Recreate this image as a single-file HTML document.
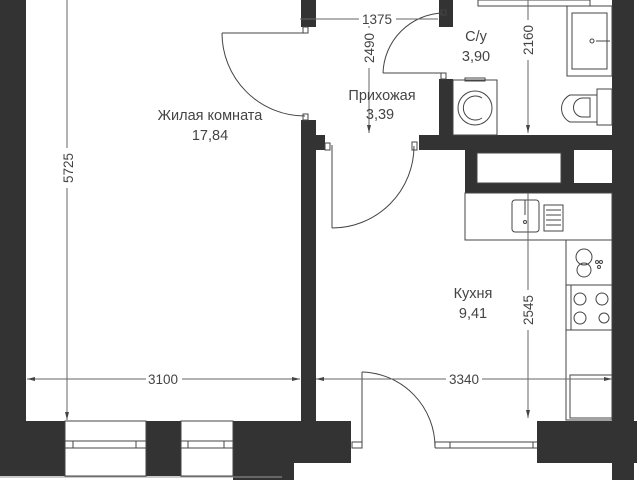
<!DOCTYPE html>
<html><head><meta charset="utf-8"><style>
html,body{margin:0;padding:0;background:#fff;width:640px;height:480px;overflow:hidden}
svg{display:block}
text{font-family:"Liberation Sans",sans-serif;fill:#444}
</style></head><body>
<svg width="640" height="480" viewBox="0 0 640 480" xmlns="http://www.w3.org/2000/svg">
<g fill="#333">
<rect x="0" y="0" width="26" height="476"/>
<rect x="0" y="421" width="65" height="55"/>
<rect x="146" y="421" width="35" height="55"/>
<rect x="233" y="421" width="118" height="42"/>
<rect x="233" y="463" width="61" height="17"/>
<rect x="301" y="0" width="15" height="27"/>
<rect x="301" y="120" width="15" height="301"/>
<rect x="316" y="135" width="9" height="15"/>
<rect x="439" y="0" width="14" height="27"/>
<rect x="439" y="79" width="14" height="71"/>
<rect x="419" y="135" width="215" height="15"/>
<rect x="465" y="150" width="169" height="43"/>
<rect x="612" y="0" width="22" height="480"/>
<rect x="537" y="421" width="100" height="42"/>
</g>
<g fill="#fff" stroke="#444" stroke-width="1">
<rect x="477" y="153" width="84" height="30"/>
<rect x="574" y="150" width="38" height="33" stroke="none"/>
<rect x="65" y="421" width="81" height="55"/>
<rect x="181" y="421" width="52" height="55"/>
</g>
<g fill="none" stroke="#444" stroke-width="1">
<line x1="65" y1="441" x2="146" y2="441"/><line x1="65" y1="448" x2="146" y2="448"/>
<rect x="73" y="441" width="63" height="7"/>
<line x1="181" y1="441" x2="233" y2="441"/><line x1="181" y1="448" x2="233" y2="448"/>
<rect x="188" y="441" width="36" height="7"/>
<line x1="0" y1="477" x2="282" y2="477" stroke="#999"/>
<line x1="222" y1="33" x2="305" y2="33"/>
<path d="M222 33 A83 83 0 0 0 305 116"/>
<rect x="303" y="27" width="5" height="6"/><rect x="303" y="114" width="5" height="6"/>
<line x1="383" y1="73" x2="445" y2="73"/>
<path d="M383 73 A62 62 0 0 1 443 13"/>
<rect x="441" y="10" width="5" height="5"/><rect x="441" y="73" width="5" height="6"/>
<line x1="332" y1="145" x2="332" y2="228"/>
<path d="M332 228 A82 82 0 0 0 414 146"/>
<rect x="325" y="143" width="5" height="7"/><rect x="412" y="142" width="5" height="8"/>
<line x1="362" y1="372" x2="362" y2="447"/>
<path d="M362 372 A75 75 0 0 1 435 447"/>
<rect x="352" y="442" width="10" height="6"/>
<line x1="435" y1="442" x2="537" y2="442"/><line x1="435" y1="448" x2="537" y2="448"/>
<line x1="435" y1="442" x2="435" y2="448"/><line x1="450" y1="442" x2="450" y2="448"/><line x1="533" y1="442" x2="533" y2="448"/>
<rect x="478" y="0" width="112" height="6"/>
<rect x="567" y="6" width="45" height="70"/><rect x="572" y="13" width="35" height="56"/>
<circle cx="592" cy="41" r="2"/><line x1="596" y1="41" x2="610" y2="41"/>
<rect x="453" y="80" width="44" height="55"/><rect x="465" y="78" width="20" height="3"/>
<circle cx="475" cy="108" r="17"/><path d="M482 98 A12 12 0 1 0 482 118"/>
<rect x="597" y="89" width="15" height="36"/>
<path d="M597 95 H570 A15 15 0 0 0 570 122 H597"/>
<path d="M590 98 H583 A8 8 0 0 0 583 117 H590 Z"/>
<rect x="465" y="193" width="147" height="47"/>
<rect x="566" y="240" width="46" height="180"/>
<line x1="566" y1="285" x2="612" y2="285"/><line x1="566" y1="330" x2="612" y2="330"/>
<rect x="512" y="200" width="27" height="32" rx="3"/>
<line x1="525" y1="200" x2="525" y2="215"/><circle cx="525" cy="222" r="1.5"/>
<rect x="544" y="205" width="19" height="26"/>
<line x1="546" y1="210" x2="561" y2="210"/><line x1="546" y1="215" x2="561" y2="215"/><line x1="546" y1="220" x2="561" y2="220"/><line x1="546" y1="225" x2="561" y2="225"/>
<circle cx="584" cy="257" r="8"/><circle cx="584" cy="270" r="7"/>
<circle cx="597" cy="262" r="1.5"/><circle cx="601" cy="262" r="1.5"/><circle cx="599" cy="267" r="1.5"/>
<line x1="571" y1="285" x2="571" y2="330"/>
<circle cx="580" cy="299" r="6"/><circle cx="602" cy="299" r="6"/>
<circle cx="580" cy="318" r="6"/><circle cx="604" cy="318" r="5"/>
<rect x="570" y="375" width="42" height="43"/>
<g stroke="#666">
<line x1="67" y1="0" x2="67" y2="420"/>
<line x1="27" y1="379" x2="300" y2="379"/>
<line x1="316" y1="379" x2="612" y2="379"/>
<line x1="300" y1="19" x2="438" y2="19"/>
<line x1="369" y1="20" x2="369" y2="133"/>
<line x1="528" y1="0" x2="528" y2="133"/>
<line x1="528" y1="193" x2="528" y2="418"/>
</g>
</g>
<g fill="#444">
<path d="M27 379 l8 -2 v4z M300 379 l-8 -2 v4z M316 379 l8 -2 v4z M612 379 l-8 -2 v4z M67 420 l-2 -8 h4z M369 133 l-2 -8 h4z M528 133 l-2 -8 h4z M528 418 l-2 -8 h4z"/>
</g>
<g fill="#fff">
<rect x="57" y="148" width="20" height="40"/>
<rect x="146" y="372" width="36" height="14"/>
<rect x="446" y="372" width="36" height="14"/>
<rect x="359" y="12" width="37" height="14"/>
<rect x="359" y="28" width="20" height="40"/>
<rect x="518" y="20" width="20" height="40"/>
<rect x="518" y="290" width="20" height="40"/>
</g>
<g font-size="13.5">
<text x="73" y="168" transform="rotate(-90 73 168)" text-anchor="middle">5725</text>
<text x="163" y="384" text-anchor="middle">3100</text>
<text x="464" y="384" text-anchor="middle">3340</text>
<text x="377" y="24" text-anchor="middle">1375</text>
<text x="374" y="48" transform="rotate(-90 374 48)" text-anchor="middle">2490</text>
<text x="533" y="40" transform="rotate(-90 533 40)" text-anchor="middle">2160</text>
<text x="533" y="310" transform="rotate(-90 533 310)" text-anchor="middle">2545</text>
</g>
<g font-size="14.5" text-anchor="middle">
<text x="210" y="120">Жилая комната</text>
<text x="210" y="140">17,84</text>
<text x="382" y="100">Прихожая</text>
<text x="380" y="119">3,39</text>
<text x="476" y="41">С/у</text>
<text x="476" y="61">3,90</text>
<text x="473" y="298">Кухня</text>
<text x="473" y="318">9,41</text>
</g>
</svg>
</body></html>
